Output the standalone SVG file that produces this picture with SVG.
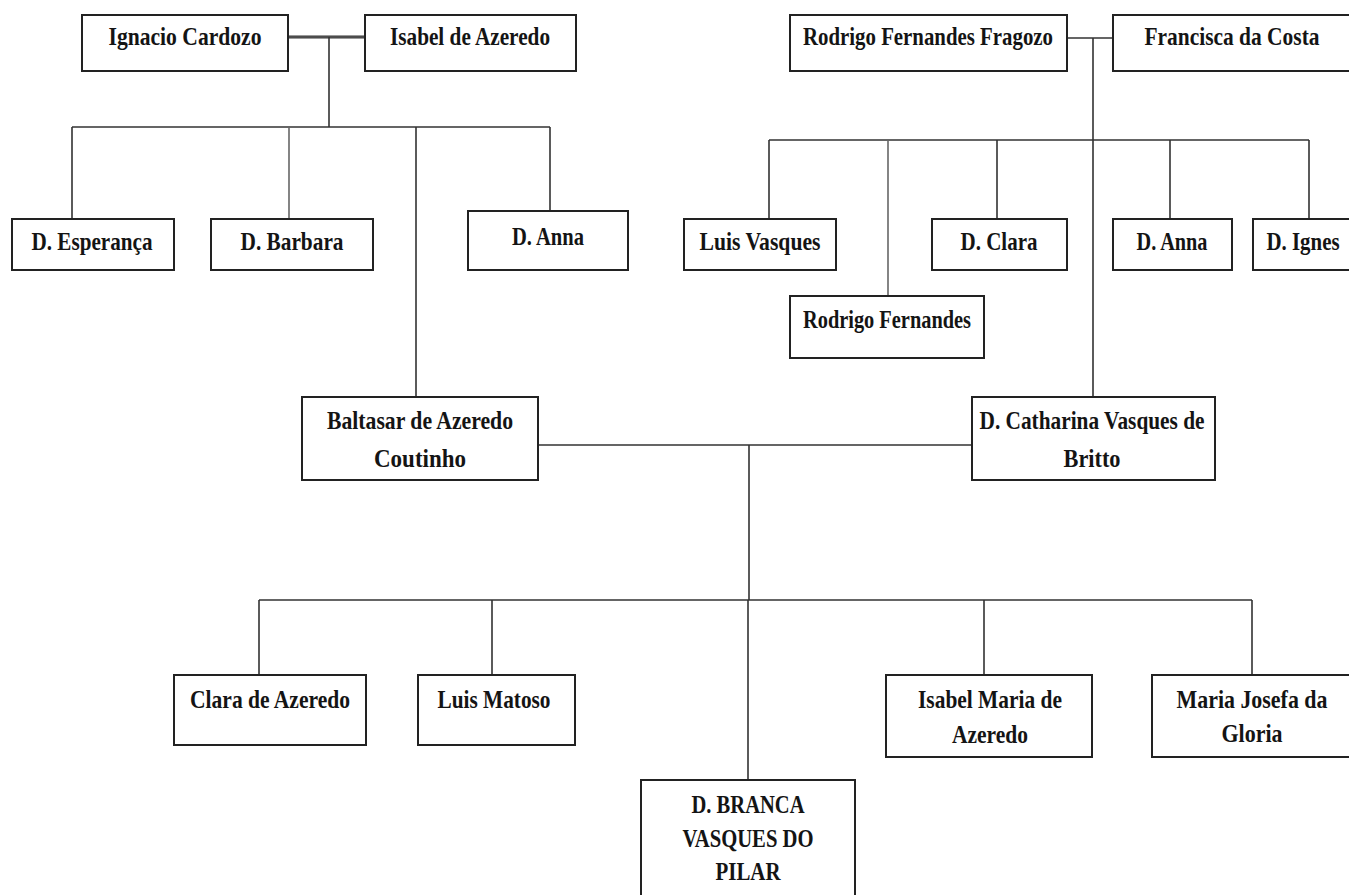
<svg xmlns="http://www.w3.org/2000/svg" width="1349" height="895" viewBox="0 0 1349 895">
<style>
.box{fill:#fff;stroke:#222;stroke-width:2}
.t{font-family:"Liberation Serif","Times New Roman",serif;font-weight:bold;font-size:25px;fill:#141414;text-anchor:middle}
.c{fill:none;stroke:#333;stroke-width:1.6}
.cg{fill:none;stroke:#666;stroke-width:1.6}
.couple{fill:none;stroke:#999;stroke-width:4}
</style>
<rect width="1349" height="895" fill="#fff"/>
<g id="connectors">
<path class="couple" d="M288 37H365"/>
<path class="c" d="M288 37H365" stroke-width="1"/>
<path class="c" d="M329 37V127M72 127H550M72 127V219M416 127V397M550 127V211"/>
<path class="cg" d="M289 127V219"/>
<path class="c" d="M1067 38H1113M1093 38V397M769 140H1309M769 140V219M997 140V219M1170 140V219M1309 140V219"/>
<path class="cg" d="M888 140V296"/>
<path class="c" d="M538 445H972M749 445V600M259 600H1252M259 600V675M492 600V675M748 600V780M984 600V675M1252 600V675"/>
</g>
<g id="n-ignacio"><rect class="box" x="82" y="15" width="206" height="56"/><text class="t" x="185" y="45" textLength="153" lengthAdjust="spacingAndGlyphs">Ignacio Cardozo</text></g>
<g id="n-isabel"><rect class="box" x="365" y="15" width="211" height="56"/><text class="t" x="470" y="45" textLength="160" lengthAdjust="spacingAndGlyphs">Isabel de Azeredo</text></g>
<g id="n-rodrigo-ff"><rect class="box" x="790" y="15" width="277" height="56"/><text class="t" x="928" y="45" textLength="250" lengthAdjust="spacingAndGlyphs">Rodrigo Fernandes Fragozo</text></g>
<g id="n-francisca"><rect class="box" x="1113" y="15" width="240" height="56"/><text class="t" x="1232" y="45" textLength="175" lengthAdjust="spacingAndGlyphs">Francisca da Costa</text></g>
<g id="n-esperanca"><rect class="box" x="12" y="219" width="162" height="51"/><text class="t" x="92" y="250" textLength="121" lengthAdjust="spacingAndGlyphs">D. Esperança</text></g>
<g id="n-barbara"><rect class="box" x="211" y="219" width="162" height="51"/><text class="t" x="292" y="250" textLength="103" lengthAdjust="spacingAndGlyphs">D. Barbara</text></g>
<g id="n-anna1"><rect class="box" x="468" y="211" width="160" height="59"/><text class="t" x="548" y="245" textLength="72" lengthAdjust="spacingAndGlyphs">D. Anna</text></g>
<g id="n-luis-vasques"><rect class="box" x="684" y="219" width="152" height="51"/><text class="t" x="760" y="250" textLength="121" lengthAdjust="spacingAndGlyphs">Luis Vasques</text></g>
<g id="n-clara"><rect class="box" x="932" y="219" width="135" height="51"/><text class="t" x="999" y="250" textLength="77" lengthAdjust="spacingAndGlyphs">D. Clara</text></g>
<g id="n-anna2"><rect class="box" x="1113" y="219" width="119" height="51"/><text class="t" x="1172" y="250" textLength="71" lengthAdjust="spacingAndGlyphs">D. Anna</text></g>
<g id="n-ignes"><rect class="box" x="1253" y="219" width="100" height="51"/><text class="t" x="1303" y="250" textLength="73" lengthAdjust="spacingAndGlyphs">D. Ignes</text></g>
<g id="n-rodrigo-f"><rect class="box" x="790" y="296" width="194" height="62"/><text class="t" x="887" y="328" textLength="168" lengthAdjust="spacingAndGlyphs">Rodrigo Fernandes</text></g>
<g id="n-baltasar"><rect class="box" x="302" y="397" width="236" height="83"/><text class="t" x="420" y="429" textLength="186" lengthAdjust="spacingAndGlyphs">Baltasar de Azeredo</text><text class="t" x="420" y="467" textLength="92" lengthAdjust="spacingAndGlyphs">Coutinho</text></g>
<g id="n-catharina"><rect class="box" x="972" y="397" width="243" height="83"/><text class="t" x="1092" y="429" textLength="225" lengthAdjust="spacingAndGlyphs">D. Catharina Vasques de</text><text class="t" x="1092" y="467" textLength="57" lengthAdjust="spacingAndGlyphs">Britto</text></g>
<g id="n-clara-az"><rect class="box" x="174" y="675" width="192" height="70"/><text class="t" x="270" y="708" textLength="160" lengthAdjust="spacingAndGlyphs">Clara de Azeredo</text></g>
<g id="n-luis-matoso"><rect class="box" x="418" y="675" width="157" height="70"/><text class="t" x="494" y="708" textLength="113" lengthAdjust="spacingAndGlyphs">Luis Matoso</text></g>
<g id="n-isabel-maria"><rect class="box" x="886" y="675" width="206" height="82"/><text class="t" x="990" y="708" textLength="144" lengthAdjust="spacingAndGlyphs">Isabel Maria de</text><text class="t" x="990" y="743" textLength="76" lengthAdjust="spacingAndGlyphs">Azeredo</text></g>
<g id="n-maria-josefa"><rect class="box" x="1152" y="675" width="201" height="82"/><text class="t" x="1252" y="708" textLength="151" lengthAdjust="spacingAndGlyphs">Maria Josefa da</text><text class="t" x="1252" y="742" textLength="61" lengthAdjust="spacingAndGlyphs">Gloria</text></g>
<g id="n-branca"><rect class="box" x="641" y="780" width="214" height="125"/><text class="t" x="748" y="813" textLength="113" lengthAdjust="spacingAndGlyphs">D. BRANCA</text><text class="t" x="748" y="847" textLength="131" lengthAdjust="spacingAndGlyphs">VASQUES DO</text><text class="t" x="748" y="880" textLength="65" lengthAdjust="spacingAndGlyphs">PILAR</text></g>
</svg>
